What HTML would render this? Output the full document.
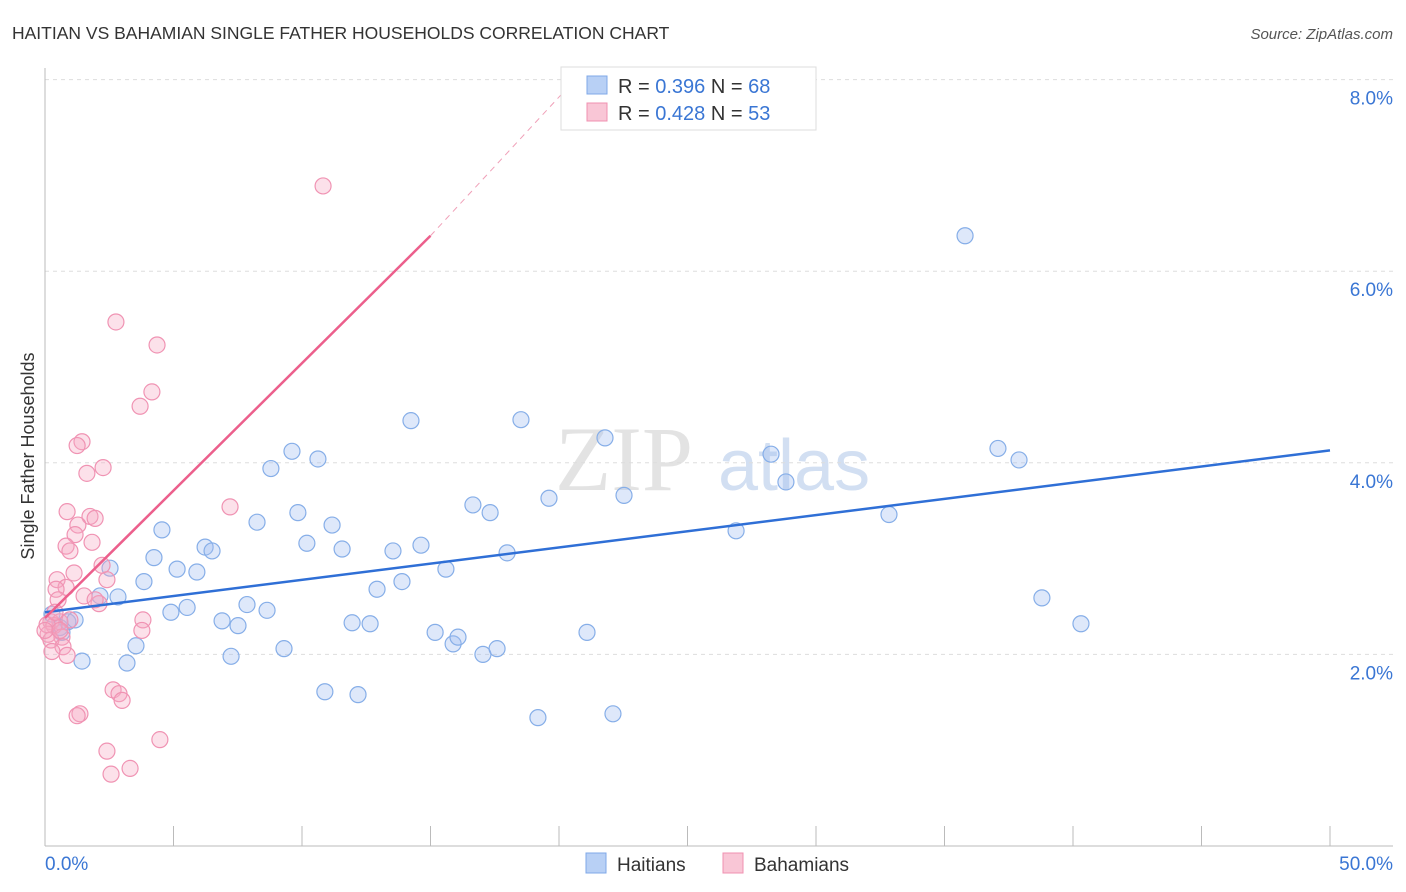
<!DOCTYPE html>
<html><head><meta charset="utf-8"><style>
body{margin:0;background:#fff;font-family:"Liberation Sans",sans-serif}
svg{display:block}
</style></head><body>
<svg id="c" width="1406" height="892" xmlns="http://www.w3.org/2000/svg">
<text x="12" y="39" font-size="17.5" fill="#333">HAITIAN VS BAHAMIAN SINGLE FATHER HOUSEHOLDS CORRELATION CHART</text>
<text x="1393" y="39" font-size="15" fill="#555" font-style="italic" text-anchor="end">Source: ZipAtlas.com</text>
<text transform="translate(34,456) rotate(-90)" font-size="18" fill="#333" text-anchor="middle">Single Father Households</text>
<g><text x="555" y="490" font-size="92" fill="#ddd" font-family="Liberation Serif,serif" opacity="0.8">ZIP</text><text x="718" y="490" font-size="72" fill="#c8d8f0" opacity="0.8">atlas</text></g>
<g id="grid"></g><g id="axes"></g><g id="pts"></g><g id="lines"></g>
<g>
<rect x="561" y="67" width="255" height="63" fill="#fff" stroke="#ddd"/>
<rect x="587" y="76" width="20" height="18" fill="#b8d0f5" stroke="#7fa8e8"/>
<text x="618" y="93" font-size="20" fill="#333">R = <tspan fill="#3a76d4">0.396</tspan>   N = <tspan fill="#3a76d4">68</tspan></text>
<rect x="587" y="103" width="20" height="18" fill="#f9c6d6" stroke="#f090b0"/>
<text x="618" y="120" font-size="20" fill="#333">R = <tspan fill="#3a76d4">0.428</tspan>   N = <tspan fill="#3a76d4">53</tspan></text>
</g>
<g>
<rect x="586" y="853" width="20" height="20" fill="#b8d0f5" stroke="#7fa8e8"/>
<text x="617" y="871" font-size="19" fill="#333">Haitians</text>
<rect x="723" y="853" width="20" height="20" fill="#f9c6d6" stroke="#f090b0"/>
<text x="754" y="871" font-size="19" fill="#333">Bahamians</text>
</g>
</svg>
<script>
const yTicks=[2,4,6,8];
const xTickLabels=["0.0%","50.0%"];
const blueX=[0.27,0.58,0.89,1.17,1.44,2.14,2.53,2.84,3.19,3.54,3.85,4.24,4.55,4.90,5.14,5.53,5.91,6.23,6.50,6.89,7.24,7.51,7.86,8.25,8.64,8.79,9.30,9.61,9.84,10.19,10.62,10.89,11.17,11.56,11.95,12.18,12.65,12.92,13.54,13.89,14.24,14.63,15.18,15.60,15.88,16.07,16.65,17.04,17.32,17.59,17.98,18.52,19.18,19.61,21.09,21.79,22.10,22.53,26.89,28.25,28.83,32.84,35.80,37.08,37.90,38.79,40.31,0.66];
const blueY=[2.42,2.28,2.34,2.36,1.93,2.61,2.90,2.60,1.91,2.09,2.76,3.01,3.30,2.44,2.89,2.49,2.86,3.12,3.08,2.35,1.98,2.30,2.52,3.38,2.46,3.94,2.06,4.12,3.48,3.16,4.04,1.61,3.35,3.10,2.33,1.58,2.32,2.68,3.08,2.76,4.44,3.14,2.23,2.89,2.11,2.18,3.56,2.00,3.48,2.06,3.06,4.45,1.34,3.63,2.23,4.26,1.38,3.66,3.29,4.09,3.80,3.46,6.37,4.15,4.03,2.59,2.32,2.23];
const pinkX=[10.82,2.76,4.36,4.16,3.70,1.44,1.25,2.26,1.63,7.20,0.86,1.75,1.95,1.28,1.17,1.83,0.82,0.97,2.22,1.13,2.41,0.47,0.82,0.43,1.52,2.10,1.95,0.51,3.81,0.23,0.58,0.35,3.77,0.12,0.66,0.23,0.70,0.86,0.27,2.65,2.88,3.00,1.36,1.25,2.41,4.47,3.31,2.57,0.08,0.39,0.97,0.00,0.58];
const pinkY=[6.89,5.47,5.23,4.74,4.59,4.22,4.18,3.95,3.89,3.54,3.49,3.44,3.42,3.35,3.25,3.17,3.13,3.08,2.93,2.85,2.78,2.78,2.70,2.68,2.61,2.53,2.57,2.57,2.36,2.34,2.34,2.30,2.25,2.21,2.18,2.15,2.08,1.99,2.03,1.63,1.59,1.52,1.38,1.36,0.99,1.11,0.81,0.75,2.31,2.44,2.36,2.25,2.25];
const blueTrend=[[0,2.44],[50,4.13]];
const pinkTrend=[[0,2.38],[15,6.37]];
const pinkDash=[[15,6.37],[20.8,8.05]];
const X=v=>45+v*25.7, Y=v=>846-v*95.8;
const NS="http://www.w3.org/2000/svg";
function mk(p,t,a){const e=document.createElementNS(NS,t);for(const k in a)e.setAttribute(k,a[k]);p.appendChild(e);return e;}
const grid=document.getElementById('grid'),axes=document.getElementById('axes'),pts=document.getElementById('pts'),lines=document.getElementById('lines');
yTicks.forEach(t=>{
 const l=mk(grid,'line',{x1:45,x2:1393,y1:Y(t),y2:Y(t),stroke:'#ddd','stroke-dasharray':'4,4'});
 
 
 const tx=mk(grid,'text',{x:1393,y:Y(t)+25,'font-size':19,fill:'#3a76d4','text-anchor':'end'});tx.textContent=t.toFixed(1)+'%';
 
 
});
mk(axes,'line',{x1:45,x2:45,y1:68,y2:846,stroke:'#bbb'});
mk(axes,'line',{x1:45,x2:1393,y1:846,y2:846,stroke:'#bbb'});
for(let i=0;i<=10;i++){mk(axes,'line',{x1:X(i*5),x2:X(i*5),y1:826,y2:846,stroke:'#bbb'});}
const xl=mk(axes,'text',{x:45,y:870,'font-size':19,fill:'#3a76d4'});xl.textContent=xTickLabels[0];


const xr=mk(axes,'text',{x:1393,y:870,'font-size':19,fill:'#3a76d4','text-anchor':'end'});xr.textContent=xTickLabels[1];


blueX.forEach((v,i)=>{const c=mk(pts,'circle',{cx:X(v),cy:Y(blueY[i]),r:8,fill:'rgba(160,190,240,0.35)',stroke:'#86aee8','stroke-width':1.2});
 
 });
pinkX.forEach((v,i)=>{const c=mk(pts,'circle',{cx:X(v),cy:Y(pinkY[i]),r:8,fill:'rgba(245,170,195,0.35)',stroke:'#f093b3','stroke-width':1.2});
 
 });
const bl=mk(lines,'line',{x1:X(blueTrend[0][0]),y1:Y(blueTrend[0][1]),x2:X(blueTrend[1][0]),y2:Y(blueTrend[1][1]),stroke:'#2f6fd6','stroke-width':2.5});


const pl=mk(lines,'line',{x1:X(pinkTrend[0][0]),y1:Y(pinkTrend[0][1]),x2:X(pinkTrend[1][0]),y2:Y(pinkTrend[1][1]),stroke:'#ec5f8c','stroke-width':2.5});


const pd=mk(lines,'line',{x1:X(pinkDash[0][0]),y1:Y(pinkDash[0][1]),x2:X(pinkDash[1][0]),y2:Y(pinkDash[1][1]),stroke:'#f0a0b8','stroke-width':1,'stroke-dasharray':'6,5'});


</script>
</body></html>
